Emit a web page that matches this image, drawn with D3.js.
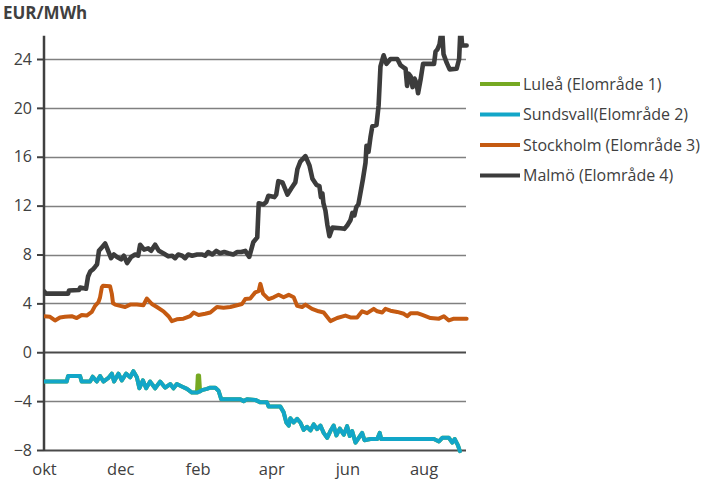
<!DOCTYPE html>
<html>
<head>
<meta charset="utf-8">
<script src="https://cdn.jsdelivr.net/npm/d3@7"></script>
<style>
  html, body { margin: 0; padding: 0; background: #fff; }
  svg { display: block; }
  text { font-family: "Open Sans", "DejaVu Sans", sans-serif; fill: #404040; }
</style>
</head>
<body>
<svg id="chart" width="704" height="483"></svg>
<script>
// Price differences per bidding area, EUR/MWh, by day from 1 Oct (day 0).
const startDate = "2012-10-01";
const endDate = "2013-09-04";

const seriesNames = ["Luleå (Elområde 1)", "Sundsvall(Elområde 2)", "Stockholm (Elområde 3)", "Malmö (Elområde 4)"];
const seriesColors = ["#76a922", "#12a6c8", "#c55a11", "#3c3c3c"];

const monthTicks = ["2012-10-01", "2012-12-01", "2013-02-01", "2013-04-01", "2013-06-01", "2013-08-01"];
const monthLabels = ["okt", "dec", "feb", "apr", "jun", "aug"];
const yTicks = [-8, -4, 0, 4, 8, 12, 16, 20, 24];

// [day, value]
const lulea = [
  [0,-2.4],[18.2,-2.4],[19.3,-1.95],[28.9,-1.95],[30.2,-2.4],[36.9,-2.4],[39,-2.0],[42.3,-2.4],
  [44.9,-1.95],[47.6,-2.4],[51.6,-2.1],[54.3,-1.75],[56.1,-2.4],[59.6,-1.75],[62.3,-2.3],[65.8,-1.75],
  [69,-2.05],[71.6,-1.55],[74.4,-2.05],[76.4,-2.95],[79.2,-2.3],[81.8,-2.95],[85,-2.4],[89,-2.95],
  [93,-2.4],[97.1,-2.9],[101.1,-2.6],[103.7,-2.95],[106.4,-2.6],[110.4,-2.8],[114.5,-3.0],[118.5,-3.3],
  [122.5,-3.3],[123.2,-1.9],[124.2,-1.9],[125,-3.2],[126.5,-3.1],[130.5,-3.0],[133.2,-2.9],[137.2,-2.9],
  [139.8,-3.15],[142,-3.85],[157.2,-3.85],[159.9,-4.0],[162.6,-3.85],[169.2,-3.9],[173.3,-4.1],[178.6,-4.1],
  [179.9,-4.45],[189.3,-4.45],[191.9,-4.9],[194.1,-5.75],[196,-6.0],[197.3,-5.4],[200,-5.75],[202.7,-5.45],
  [205.3,-5.75],[208,-6.35],[210.7,-6.1],[213.4,-6.4],[216,-5.9],[218.7,-6.3],[221.4,-6.0],[224,-6.6],
  [226.8,-7.0],[229.4,-6.45],[232,-6.0],[234.2,-6.8],[236.9,-6.25],[240.1,-6.75],[242.8,-6.05],[244.9,-6.85],
  [246.8,-6.45],[249.5,-7.4],[252.1,-7.0],[254.8,-6.6],[256.7,-7.2],[261.5,-7.1],[266.9,-7.1],[268.9,-6.6],
  [270.1,-7.1],[312.3,-7.1],[316.3,-7.3],[319,-7.0],[324.3,-7.0],[327,-7.4],[328.9,-7.1],[331.5,-7.6],
  [333.1,-8.1]
];

const sundsvall = [
  [0,-2.4],[18.2,-2.4],[19.3,-1.95],[28.9,-1.95],[30.2,-2.4],[36.9,-2.4],[39,-2.0],[42.3,-2.4],
  [44.9,-1.95],[47.6,-2.4],[51.6,-2.1],[54.3,-1.75],[56.1,-2.4],[59.6,-1.75],[62.3,-2.3],[65.8,-1.75],
  [69,-2.05],[71.6,-1.55],[74.4,-2.05],[76.4,-2.95],[79.2,-2.3],[81.8,-2.95],[85,-2.4],[89,-2.95],
  [93,-2.4],[97.1,-2.9],[101.1,-2.6],[103.7,-2.95],[106.4,-2.6],[110.4,-2.8],[114.5,-3.0],[118.5,-3.3],
  [122.5,-3.3],[125,-3.2],[126.5,-3.1],[130.5,-3.0],[133.2,-2.9],[137.2,-2.9],
  [139.8,-3.15],[142,-3.85],[157.2,-3.85],[159.9,-4.0],[162.6,-3.85],[169.2,-3.9],[173.3,-4.1],[178.6,-4.1],
  [179.9,-4.45],[189.3,-4.45],[191.9,-4.9],[194.1,-5.75],[196,-6.0],[197.3,-5.4],[200,-5.75],[202.7,-5.45],
  [205.3,-5.75],[208,-6.35],[210.7,-6.1],[213.4,-6.4],[216,-5.9],[218.7,-6.3],[221.4,-6.0],[224,-6.6],
  [226.8,-7.0],[229.4,-6.45],[232,-6.0],[234.2,-6.8],[236.9,-6.25],[240.1,-6.75],[242.8,-6.05],[244.9,-6.85],
  [246.8,-6.45],[249.5,-7.4],[252.1,-7.0],[254.8,-6.6],[256.7,-7.2],[261.5,-7.1],[266.9,-7.1],[268.9,-6.6],
  [270.1,-7.1],[312.3,-7.1],[316.3,-7.3],[319,-7.0],[324.3,-7.0],[327,-7.4],[328.9,-7.1],[331.5,-7.6],
  [333.1,-8.1]
];

const stockholm = [
  [0,2.95],[4.8,2.9],[8.8,2.6],[12.8,2.85],[16.8,2.9],[22.2,2.95],[26.2,2.8],[30.2,3.05],[34.2,3.0],
  [38.3,3.3],[40.9,3.8],[43.6,4.1],[44.9,4.5],[46.3,5.3],[47.3,5.45],[52.9,5.4],[54.3,4.8],[55.3,4.0],
  [57,3.9],[61,3.8],[65,3.7],[69,3.9],[74.4,3.9],[79.6,3.85],[82.4,4.4],[86.4,3.95],[90.4,3.7],
  [95.7,3.35],[99.7,2.95],[102.4,2.55],[106.4,2.7],[111.7,2.75],[117.1,2.95],[119.8,3.25],[123.8,3.05],
  [129.1,3.15],[133.2,3.25],[138.5,3.7],[143.8,3.65],[149.2,3.7],[154.6,3.85],[158.6,3.95],[161.2,4.35],
  [165.2,4.4],[169.2,4.9],[171.9,5.0],[173.3,5.6],[175.4,4.8],[179.9,4.35],[183.9,4.5],[187.9,4.7],
  [191.9,4.5],[196,4.7],[200,4.5],[202.7,3.8],[206.7,3.7],[209.4,3.9],[214.7,3.55],[220,3.35],
  [224,3.25],[229.4,2.55],[234.8,2.8],[241.4,3.0],[245.4,2.85],[250.8,2.85],[254.8,3.35],[258.8,3.2],
  [264.1,3.55],[266.9,3.35],[270.9,3.25],[273.5,3.55],[277.5,3.4],[282.9,3.3],[288.2,3.15],[290.9,2.95],
  [293.6,3.2],[298.9,3.2],[303,3.05],[309.6,2.8],[316.3,2.75],[320.3,2.95],[324.3,2.6],[328.3,2.75],
  [338.5,2.75]
];

const malmo = [
  [0,5.0],[1.6,4.8],[19.3,4.8],[20,5.05],[28,5.1],[29,5.3],[33.7,5.2],[35.3,6.2],[37,6.6],[39.3,6.8],
  [41,7.0],[42.5,7.2],[44,8.3],[46.5,8.6],[49,8.9],[51,8.4],[53.7,7.7],[56,8.0],[58.5,7.8],[61.8,7.6],
  [64,7.9],[66.6,7.3],[69.8,7.8],[73,8.0],[75.4,7.9],[77,8.8],[80.2,8.4],[83.4,8.5],[85.8,8.3],[89,8.8],
  [92,8.3],[95.5,8.1],[99.5,7.85],[102.7,7.9],[105,7.7],[107.5,8.0],[110.7,7.9],[113,7.7],[115.5,8.0],
  [118.7,7.9],[122.7,8.0],[126.7,8.0],[129,7.9],[131.5,8.2],[134.8,8.0],[138,8.3],[141,8.1],[144.4,8.2],
  [147.6,8.1],[151.6,8.0],[154.8,8.2],[158,8.2],[161.2,8.3],[164.4,7.8],[167.6,9.0],[170.8,9.4],[172,12.2],
  [175.7,12.1],[178,12.3],[179.7,12.8],[184.5,12.7],[186,12.9],[187.7,14.0],[191,13.9],[195,12.9],
  [198,13.4],[201.3,13.9],[203,15.0],[205.3,15.6],[209.4,16.05],[212.6,15.3],[215,14.2],[218.2,13.7],
  [220.6,13.6],[221.8,12.7],[223,13.0],[223.8,12.2],[225.4,11.6],[227,10.4],[228.6,9.5],[231,10.2],
  [237.4,10.15],[240.6,10.1],[243,10.4],[245.4,10.8],[247,11.4],[248.6,11.2],[250.2,11.9],[251.8,12.1],
  [253.4,13.0],[255.5,14.2],[257.5,15.5],[258.3,16.9],[259.9,16.4],[261.5,17.6],[263,18.5],[266.3,18.6],
  [268,20.2],[269.5,23.4],[272,24.3],[274.3,23.6],[276.7,23.9],[277.5,24.0],[283,24.0],[285.5,23.5],
  [288,23.3],[289.6,23.2],[290.8,21.8],[292,22.8],[293.6,22.6],[295.2,21.7],[296.8,22.4],[298.4,22.0],
  [299.6,21.2],[301.6,22.3],[303.6,23.6],[312.4,23.6],[313.6,24.6],[315.2,24.8],[316.8,25.2],[318.8,26.6],
  [320,24.4],[322.5,23.7],[324.9,23.15],[330.5,23.2],[332.5,24.0],[333.7,26.8],[334.9,25.1],[338.5,25.1]
];

const seriesData = [lulea, sundsvall, stockholm, malmo];

const svg = d3.select("#chart");
const parse = d3.timeParse("%Y-%m-%d");
const t0 = parse(startDate);
const dayToDate = d => new Date(t0.getTime() + d * 864e5);

const plotLeft = 44, plotRight = 466, plotBottom = 450;
const x = d3.scaleTime().domain([t0, parse(endDate)]).range([plotLeft, plotRight]);
const y = d3.scaleLinear().domain([-8, 24]).range([plotBottom, 59]);
const plotTop = y(25.9);

// horizontal gridlines
svg.append("g").selectAll("line").data(yTicks).join("line")
  .attr("x1", plotLeft).attr("x2", plotRight)
  .attr("y1", d => Math.round(y(d)) + 0.5).attr("y2", d => Math.round(y(d)) + 0.5)
  .attr("stroke", d => (d === 0 || d === -8) ? "#4a4a4a" : "#808080")
  .attr("stroke-width", d => (d === 0 || d === -8) ? 2 : 1.3);

// y axis
const yAxis = svg.append("g").attr("transform", `translate(${plotLeft},0)`)
  .call(d3.axisLeft(y).tickValues(yTicks).tickSize(7).tickPadding(5).tickFormat(d3.format("d")));
yAxis.select(".domain").remove();
yAxis.selectAll(".tick line").attr("stroke", "#404040").attr("stroke-width", 2);
yAxis.selectAll(".tick text").attr("font-size", "16px").attr("fill", "#404040")
  .attr("font-family", "'Open Sans', sans-serif");
svg.append("line").attr("x1", plotLeft).attr("x2", plotLeft).attr("y1", plotTop).attr("y2", plotBottom + 1)
  .attr("stroke", "#404040").attr("stroke-width", 2.5);

// x axis labels
const xAxis = svg.append("g").attr("transform", `translate(0,${plotBottom})`)
  .call(d3.axisBottom(x).tickValues(monthTicks.map(parse)).tickSize(0).tickPadding(13)
    .tickFormat((d, i) => monthLabels[i]));
xAxis.select(".domain").remove();
xAxis.selectAll(".tick text").attr("font-size", "16.5px").attr("fill", "#404040")
  .attr("font-family", "'Open Sans', sans-serif");

// unit label
svg.append("text").attr("x", 3).attr("y", 19).attr("font-size", "17px").attr("font-weight", "bold")
  .text("EUR/MWh");

// lines
svg.append("clipPath").attr("id", "plot").append("rect")
  .attr("x", plotLeft).attr("y", plotTop).attr("width", plotRight - plotLeft + 4).attr("height", plotBottom - plotTop + 10);

const line = d3.line().x(d => x(dayToDate(d[0]))).y(d => y(d[1]));
svg.append("g").attr("clip-path", "url(#plot)").selectAll("path").data(seriesData).join("path")
  .attr("d", line)
  .attr("fill", "none")
  .attr("stroke", (d, i) => seriesColors[i])
  .attr("stroke-width", (d, i) => i === 3 ? 4.6 : 4)
  .attr("stroke-linejoin", "round")
  .attr("stroke-linecap", "round");

// legend
const legend = svg.append("g").selectAll("g").data(seriesNames).join("g")
  .attr("transform", (d, i) => `translate(480,${84 + i * 30.5})`);
legend.append("line").attr("x1", 0).attr("x2", 40).attr("y1", 0).attr("y2", 0)
  .attr("stroke", (d, i) => seriesColors[i]).attr("stroke-width", 4);
legend.append("text").attr("x", 43).attr("y", 0).attr("dy", "0.35em")
  .attr("font-size", "16px").text(d => d);
</script>
</body>
</html>
